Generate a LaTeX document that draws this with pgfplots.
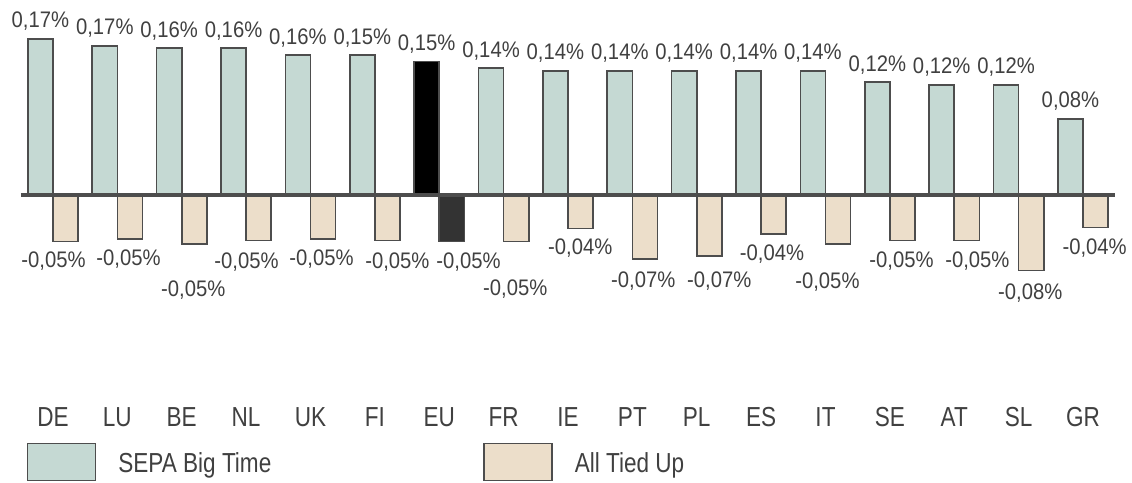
\documentclass[border=0pt]{standalone}
\usepackage{fontspec}
\setmainfont{Liberation Sans}
\newfontfamily\narrowfont[FakeStretch=0.82]{Liberation Sans}
\newfontfamily\valfont[FakeStretch=0.9]{Liberation Sans}
\usepackage{pgfplots}
\pgfplotsset{compat=1.18}
\definecolor{sepa}{HTML}{C5D9D3}
\definecolor{tied}{HTML}{ECDECA}
\definecolor{edge}{HTML}{4D4D4D}
\definecolor{eupos}{HTML}{000000}
\definecolor{euneg}{HTML}{333333}
\definecolor{txt}{HTML}{404040}
\begin{document}
\begin{tikzpicture}
\useasboundingbox (-20.8pt,-70.3pt) rectangle (1111.2pt,411.7pt);
\begin{axis}[
  at={(0pt,0pt)}, anchor=south west,
  scale only axis, width=1094.4pt, height=406.35pt,
  xmin=-0.5, xmax=16.5, ymin=-0.24, ymax=0.21,
  clip=false,
  axis line style={draw=none},
  xtick={0,...,16},
  xticklabels={DE,LU,BE,NL,UK,FI,EU,FR,IE,PT,PL,ES,IT,SE,AT,SL,GR},
  ytick=\empty,
  major tick length=0pt,
  xticklabel style={font=\narrowfont\fontsize{27.5}{30}\selectfont, text=txt, anchor=center, yshift=-5.3pt},
  legend style={at={(0.00567,-0.077)}, anchor=north west, draw=none, fill=none,
    inner sep=0pt, outer sep=0pt, column sep=0pt, row sep=0pt,
    nodes={inner sep=0pt, text depth=0pt, text=txt, font=\narrowfont\fontsize{27.5}{30}\selectfont}},
  legend columns=2,
  legend cell align=left,
]
\addplot[ybar, bar width=0.39, bar shift=-0.195, fill=sepa, draw=edge, line width=1.6pt,
  legend image code/.code={\draw[fill=sepa, draw=edge, line width=1.4pt] (0pt,-18.5pt) rectangle (68pt,18.5pt);}]
coordinates {(0,0.1728) (1,0.165) (2,0.1625) (3,0.1625) (4,0.155) (5,0.155) (7,0.1403) (8,0.1373) (9,0.1373) (10,0.1373) (11,0.1373) (12,0.1373) (13,0.1248) (14,0.1218) (15,0.1218) (16,0.0842)};
\addlegendentry{\makebox[387pt][l]{\hspace*{22pt}SEPA Big Time}}
\addplot[ybar, bar width=0.39, bar shift=0.195, fill=tied, draw=edge, line width=1.6pt,
  legend image code/.code={\draw[fill=tied, draw=edge, line width=1.4pt] (0pt,-18.5pt) rectangle (68pt,18.5pt);}]
coordinates {(0,-0.0517) (1,-0.049) (2,-0.0543) (3,-0.0506) (4,-0.049) (5,-0.0506) (7,-0.0517) (8,-0.0369) (9,-0.0712) (10,-0.0676) (11,-0.0432) (12,-0.0543) (13,-0.0506) (14,-0.0506) (15,-0.0838) (16,-0.0362)};
\addlegendentry{\hspace*{22pt}All Tied Up}
\addplot[ybar, bar width=0.39, bar shift=-0.195, fill=eupos, draw=edge, line width=1.6pt, forget plot]
coordinates {(6,0.1476)};
\addplot[ybar, bar width=0.39, bar shift=0.195, fill=euneg, draw=edge, line width=1.6pt, forget plot]
coordinates {(6,-0.0517)};
% positive value labels
\addplot[sharp plot, draw=none, mark=none, forget plot, point meta=explicit symbolic,
  nodes near coords,
  every node near coord/.style={anchor=base, yshift=11pt, font=\valfont\fontsize{22.5}{26}\selectfont, text=txt, inner sep=0pt}]
coordinates {(-0.195,0.1728) [0,17\%] (0.805,0.165) [0,17\%] (1.805,0.1625) [0,16\%] (2.805,0.1625) [0,16\%]
 (3.805,0.155) [0,16\%] (4.805,0.155) [0,15\%] (5.805,0.1476) [0,15\%] (6.805,0.1403) [0,14\%]
 (7.805,0.1373) [0,14\%] (8.805,0.1373) [0,14\%] (9.805,0.1373) [0,14\%] (10.805,0.1373) [0,14\%]
 (11.805,0.1373) [0,14\%] (12.805,0.1248) [0,12\%] (13.805,0.1218) [0,12\%] (14.805,0.1218) [0,12\%]
 (15.805,0.0842) [0,08\%]};
% negative value labels (label centres)
\addplot[sharp plot, draw=none, mark=none, forget plot, point meta=explicit symbolic,
  nodes near coords,
  every node near coord/.style={anchor=base, yshift=-8pt, font=\valfont\fontsize{22.5}{26}\selectfont, text=txt, inner sep=0pt}]
coordinates {(0.008,-0.0720) [-0,05\%] (1.173,-0.0687) [-0,05\%] (2.18,-0.1041) [-0,05\%] (3.006,-0.0731) [-0,05\%]
 (4.171,-0.0687) [-0,05\%] (5.35,-0.0731) [-0,05\%] (6.454,-0.0731) [-0,05\%] (7.18,-0.1030) [-0,05\%]
 (8.19,-0.0565) [-0,04\%] (9.17,-0.0941) [-0,07\%] (10.35,-0.0941) [-0,07\%] (11.17,-0.0642) [-0,04\%]
 (12.03,-0.0952) [-0,05\%] (13.18,-0.0709) [-0,05\%] (14.36,-0.0709) [-0,05\%] (15.18,-0.1074) [-0,08\%]
 (16.18,-0.0576) [-0,04\%]};
\draw[edge, line width=4pt] (axis cs:-0.5,0) -- (axis cs:16.5,0);
\end{axis}
\end{tikzpicture}
\end{document}
